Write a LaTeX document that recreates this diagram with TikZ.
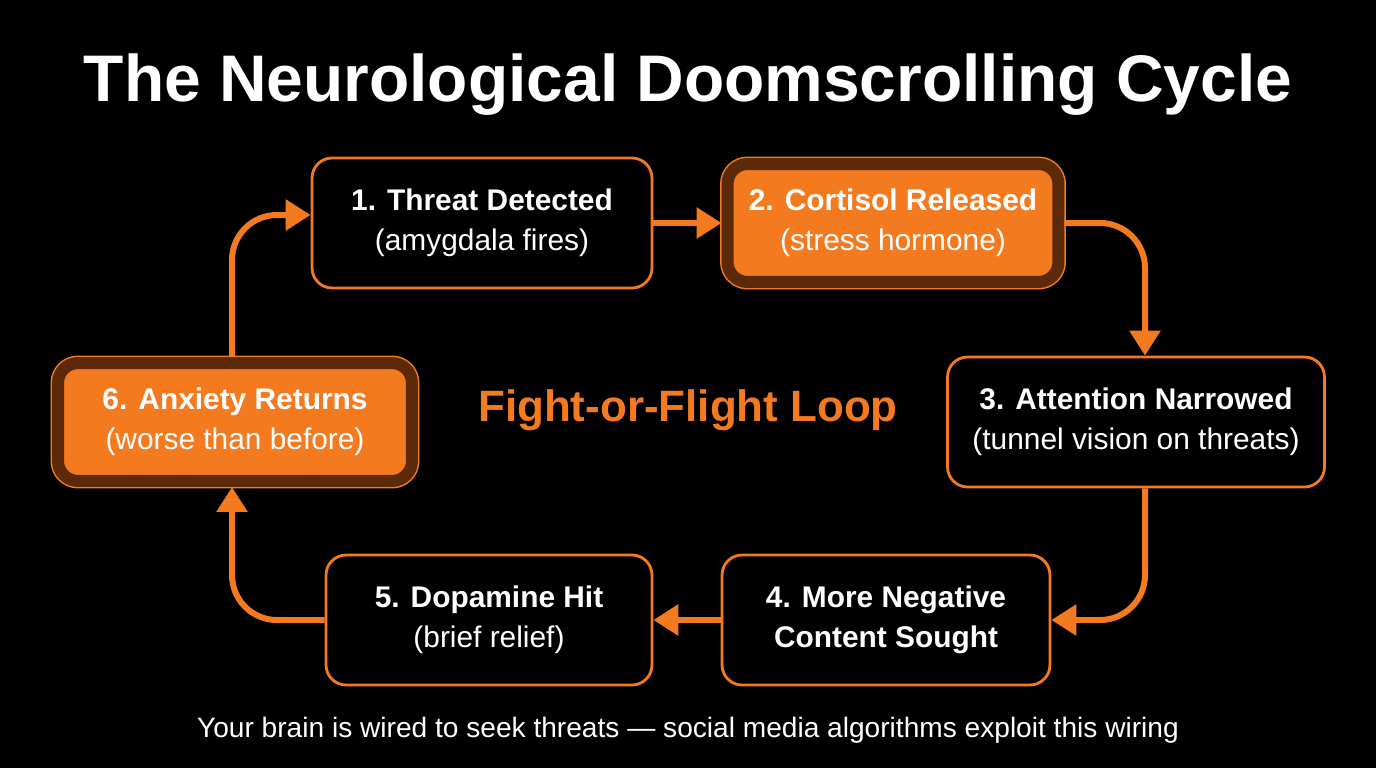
\documentclass[tikz,border=0pt]{standalone}
\usepackage{fontspec}
\setmainfont{Liberation Sans}
\usetikzlibrary{positioning,arrows.meta}
\definecolor{hotOrange}{HTML}{F47A20}
\definecolor{hotBrown}{HTML}{5C2A08}
\tikzset{>=stealth}
\tikzset{
  cycleBox/.style={draw=hotOrange, line width=1.6pt, rounded corners=0.4cm, fill=black,
    text=white, align=center, font=\fontsize{17}{23}\selectfont, inner sep=0pt},
  hotBox/.style={cycleBox, fill=hotOrange, draw=hotBrown, line width=0.24cm,
    preaction={draw=hotOrange, line width=0.3cm}},
  flow/.style={->, hotOrange, line width=0.12cm, rounded corners=0.9cm,
    >={Triangle[length=0.5cm,width=0.6cm]}}
}
\begin{document}
\begin{tikzpicture}[x=0.02cm,y=-0.02cm]
				\fill[black] (0,0) rectangle (1376,768);
				\useasboundingbox (0,0) rectangle (1376,768);
				\node[text=white, font=\fontsize{37.5}{44}\selectfont\bfseries] (title) at (688,85) {The Neurological Doomscrolling Cycle};
				% the six steps
				\node[cycleBox, minimum width=6.8cm, minimum height=2.6cm] (threat) at (482,223) {\textbf{1. Threat Detected}\\(amygdala fires)};
				\node[hotBox, minimum width=6.62cm, minimum height=2.36cm] (cortisol) at (893,223) {\textbf{2. Cortisol Released}\\(stress hormone)};
				\node[cycleBox, minimum width=7.54cm, minimum height=2.6cm] (attention) at (1136,422) {\textbf{3. Attention Narrowed}\\(tunnel vision on threats)};
				\node[cycleBox, minimum width=6.56cm, minimum height=2.6cm] (content) at (886,620) {\textbf{4. More Negative}\\\textbf{Content Sought}};
				\node[cycleBox, minimum width=6.52cm, minimum height=2.6cm] (dopamine) at (489,620) {\textbf{5. Dopamine Hit}\\(brief relief)};
				\node[hotBox, minimum width=7.08cm, minimum height=2.36cm] (anxiety) at (235,422) {\textbf{6. Anxiety Returns}\\(worse than before)};
				\node[text=hotOrange, font=\fontsize{25}{28}\selectfont\bfseries] (loop) at (688,410) {Fight-or-Flight Loop};
				\node[text=white, font=\fontsize{16}{20}\selectfont] (note) at (688,730) {Your brain is wired to seek threats --- social media algorithms exploit this wiring};
				% connectors
				\draw[flow] (threat) -- (cortisol);
				\draw[flow] (cortisol.east) -| (attention.north -| 1145,0);
				\draw[flow] (attention.south -| 1145,0) |- (content.east);
				\draw[flow] (content) -- (dopamine);
				\draw[flow] (dopamine.west) -| (anxiety.south -| 232,0);
				\draw[flow] (anxiety.north -| 232,0) |- ([yshift=0.16cm]threat.west);
\end{tikzpicture}
\end{document}
